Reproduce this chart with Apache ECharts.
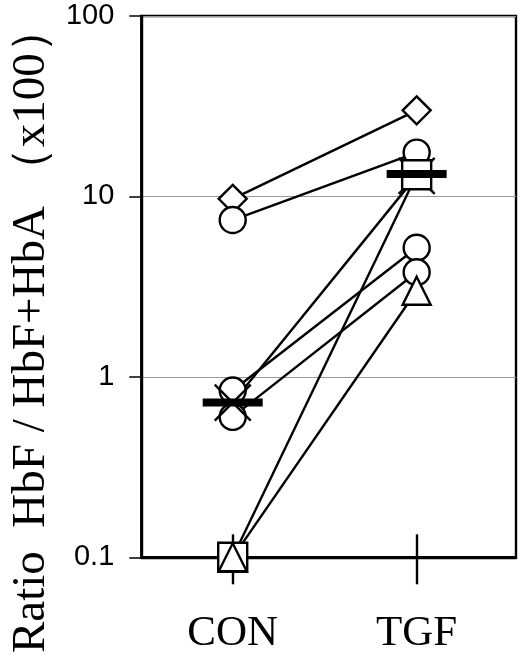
<!DOCTYPE html>
<html>
<head>
<meta charset="utf-8">
<script src="https://cdn.jsdelivr.net/npm/echarts@6/dist/echarts.min.js"></script>
<style>
    html, body { margin: 0; padding: 0; background: #fff; }
    #chart-box { width: 520px; height: 656px; }
</style>
</head>
<body>
<div id="chart-box"></div>
<script>
    // groups on the x axis
    const categories = ['CON', 'TGF'];
    // one subject per index: value before (CON) and after (TGF)
    const conValues = [9.7, 7.4, 0.84, 0.6, 0.72, 0.1, 0.1];
    const tgfValues = [30, 17.5, 5.2, 3.8, 13, 13.2, 3.0];
    const markers = ['diamond', 'circle', 'circle', 'circle', 'cross', 'rect', 'triangle'];
    // mean of each group (thick bar)
    const meanValues = [0.72, 13.3];
    const yTicks = [0.1, 1, 10, 100];

    const symbolMap = {
        diamond: 'diamond',
        circle: 'circle',
        rect: 'rect',
        triangle: 'triangle',
        cross: 'path://M0,0L20,20M20,0L0,20'
    };
    const sizeMap = { diamond: 28, circle: 26, rect: 29, triangle: 28, cross: 36 };

    let series = [];
    conValues.forEach(function(v, i) {
        series.push({
            type: 'line',
            data: [[0, v], [1, tgfValues[i]]],
            showSymbol: false,
            silent: true,
            lineStyle: { color: '#000', width: 2.4 },
            z: 2
        });
    });
    conValues.forEach(function(v, i) {
        let m = markers[i];
        series.push({
            type: 'scatter',
            symbol: symbolMap[m],
            symbolSize: sizeMap[m],
            data: [[0, v], [1, tgfValues[i]]],
            itemStyle: {
                color: m == 'cross' ? 'none' : '#fff',
                borderColor: '#000',
                borderWidth: 2.4,
                opacity: 1
            },
            z: 3
        });
    });
    series.push({
        type: 'scatter',
        symbol: 'rect',
        symbolSize: [60, 8],
        data: meanValues.map((v, i) => [i, v]),
        itemStyle: { color: '#000', opacity: 1 },
        z: 4
    });

    const xMin = -0.497, xMax = 1.54;
    let chart = echarts.init(document.getElementById('chart-box'));
    chart.setOption({
        animation: false,
        grid: {
            left: 135, right: 4, top: 16, bottom: 95,
            show: true, borderColor: '#000', borderWidth: 2.4
        },
        xAxis: [{
            type: 'value',
            min: xMin, max: xMax,
            splitLine: { show: false },
            axisLine: { show: true, onZero: false, lineStyle: { color: '#000', width: 2.4 } },
            axisTick: { show: true, customValues: [0, 1], length: 27, lineStyle: { color: '#000', width: 2.4 } },
            axisLabel: {
                customValues: [0, 1],
                formatter: (v) => categories[Math.round(v)],
                margin: 55,
                color: '#000',
                fontSize: 43,
                fontFamily: 'Liberation Serif, Times New Roman, serif'
            }
        }, {
            type: 'value',
            position: 'bottom',
            min: xMin, max: xMax,
            splitLine: { show: false },
            axisLine: { show: false, onZero: false },
            axisTick: { show: true, inside: true, customValues: [0, 1], length: 23, lineStyle: { color: '#000', width: 2.4 } },
            axisLabel: { show: false }
        }],
        yAxis: {
            type: 'log',
            logBase: 10,
            min: yTicks[0],
            max: yTicks[yTicks.length - 1],
            name: 'Ratio  HbF / HbF+HbA （x100）',
            nameLocation: 'middle',
            nameGap: 80,
            nameTextStyle: {
                color: '#000',
                fontSize: 47,
                fontFamily: 'Liberation Serif, Times New Roman, serif',
                padding: [0, 86, 0, 0]
            },
            axisLine: { show: true, onZero: false, lineStyle: { color: '#000', width: 2.4 } },
            axisTick: { show: true, length: 12, lineStyle: { color: '#000', width: 1.5 } },
            splitLine: { show: true, lineStyle: { color: '#999', width: 1 } },
            axisLabel: {
                margin: 27,
                color: '#000',
                fontSize: 29,
                fontFamily: 'Liberation Sans, Arial, sans-serif',
                formatter: (v) => String(v)
            }
        },
        series: series
    });
</script>
</body>
</html>
